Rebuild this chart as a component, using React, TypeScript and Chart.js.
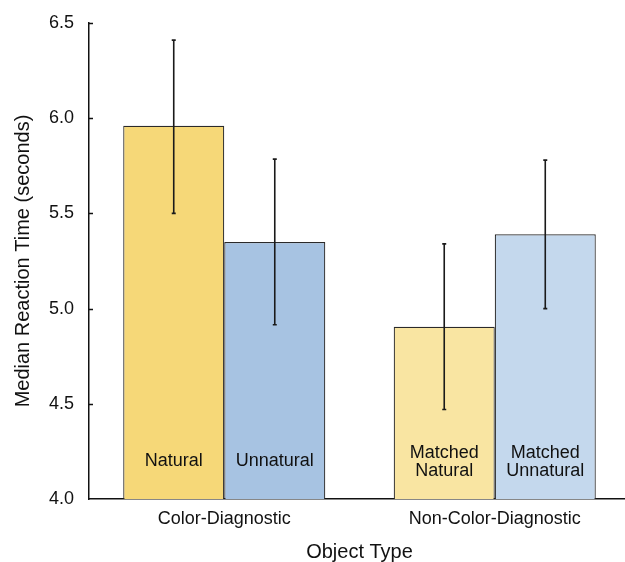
import React, { useEffect, useRef } from "react";
import { Chart, registerables } from "chart.js";

Chart.register(...registerables);

const categories = ["Color-Diagnostic", "Non-Color-Diagnostic"];
const naturalValues = [5.96, 4.905];
const naturalErrLow = [5.5, 4.47];
const naturalErrHigh = [6.41, 5.34];
const unnaturalValues = [5.35, 5.39];
const unnaturalErrLow = [4.915, 5.0];
const unnaturalErrHigh = [5.785, 5.78];
const naturalLabels = [["Natural"], ["Matched", "Natural"]];
const unnaturalLabels = [["Unnatural"], ["Matched", "Unnatural"]];
const naturalColors = ["#F6D878", "#F9E5A2"];
const unnaturalColors = ["#A7C3E2", "#C4D8ED"];
const yTicks = [4.0, 4.5, 5.0, 5.5, 6.0, 6.5];

const FONT = '"Liberation Sans", Arial, Helvetica, sans-serif';

const errLow = [naturalErrLow, unnaturalErrLow];
const errHigh = [naturalErrHigh, unnaturalErrHigh];
const barLabels = [naturalLabels, unnaturalLabels];

const overlay = {
  id: "overlay",
  afterDatasetsDraw(chart: any) {
    const ctx = chart.ctx;
    const y = chart.scales.y;
    const basePx = y.getPixelForValue(y.min);
    ctx.save();
    chart.data.datasets.forEach((_ds: any, di: number) => {
      const meta = chart.getDatasetMeta(di);
      meta.data.forEach((bar: any, i: number) => {
        const bx = bar.x;
        const lines = barLabels[di][i];
        ctx.fillStyle = "#111";
        ctx.font = "18px " + FONT;
        ctx.textAlign = "center";
        ctx.textBaseline = "middle";
        const lh = 18;
        const cy = basePx - 38 + (lines.length > 1 ? 1 : 0);
        const start = cy - ((lines.length - 1) * lh) / 2;
        lines.forEach((t: string, k: number) => {
          ctx.fillText(t, bx, start + k * lh);
        });
        const yl = y.getPixelForValue(errLow[di][i]);
        const yh = y.getPixelForValue(errHigh[di][i]);
        ctx.strokeStyle = "#1a1a1a";
        ctx.lineWidth = 1.6;
        ctx.beginPath();
        ctx.moveTo(bx, yl);
        ctx.lineTo(bx, yh);
        ctx.moveTo(bx - 2, yl);
        ctx.lineTo(bx + 2, yl);
        ctx.moveTo(bx - 2, yh);
        ctx.lineTo(bx + 2, yh);
        ctx.stroke();
      });
    });
    const left = chart.chartArea.left;
    ctx.strokeStyle = "#111";
    ctx.lineWidth = 1.5;
    ctx.beginPath();
    yTicks.forEach((v) => {
      if (v === y.min) return;
      const py = Math.round(y.getPixelForValue(v)) + 0.5;
      ctx.moveTo(left, py);
      ctx.lineTo(left + 4, py);
    });
    ctx.stroke();
    ctx.restore();
  },
};

export default function App() {
  const ref = useRef<HTMLCanvasElement | null>(null);
  useEffect(() => {
    document.body.style.margin = "0";
    const chart = new Chart(ref.current as HTMLCanvasElement, {
      type: "bar",
      data: {
        labels: categories,
        datasets: [
          {
            label: "Natural",
            data: naturalValues,
            backgroundColor: naturalColors,
            borderColor: "#2a2a2a",
            borderWidth: 1.2,
            categoryPercentage: 0.747,
            barPercentage: 1,
          },
          {
            label: "Unnatural",
            data: unnaturalValues,
            backgroundColor: unnaturalColors,
            borderColor: "#2a2a2a",
            borderWidth: 1.2,
            categoryPercentage: 0.747,
            barPercentage: 1,
          },
        ],
      },
      options: {
        responsive: false,
        animation: false,
        devicePixelRatio: 1,
        layout: { padding: { top: 23, right: 0, bottom: 0, left: 0 } },
        plugins: {
          legend: { display: false },
          tooltip: { enabled: false },
        },
        scales: {
          x: {
            grid: { display: false, drawTicks: false },
            border: { display: true, color: "#111", width: 1.5 },
            ticks: { color: "#111", font: { family: FONT, size: 18 }, padding: 9 },
            title: {
              display: true,
              text: "Object Type",
              color: "#111",
              font: { family: FONT, size: 20, lineHeight: 1 },
              padding: { top: 4, bottom: 0 },
            },
            afterFit: (s: any) => {
              s.height = 63;
              s.paddingLeft = 0;
              s.paddingRight = 0;
            },
          },
          y: {
            min: 4,
            max: 6.5,
            grid: { display: false, drawTicks: false },
            border: { display: true, color: "#111", width: 1.5 },
            ticks: {
              stepSize: 0.5,
              color: "#111",
              font: { family: FONT, size: 18 },
              padding: 15,
              callback: (v: any) => Number(v).toFixed(1),
            },
            title: {
              display: true,
              text: "Median Reaction Time (seconds)",
              color: "#111",
              font: { family: FONT, size: 20 },
              padding: { top: 11, bottom: 0 },
            },
            afterFit: (s: any) => {
              s.width = 89;
              s.paddingTop = 0;
              s.paddingBottom = 0;
            },
          },
        },
      },
      plugins: [overlay],
    });
    return () => chart.destroy();
  }, []);
  return (
    <div style={{ width: 625, height: 562, overflow: "hidden" }}>
      <canvas ref={ref} width={630} height={562} style={{ display: "block" }} />
    </div>
  );
}
